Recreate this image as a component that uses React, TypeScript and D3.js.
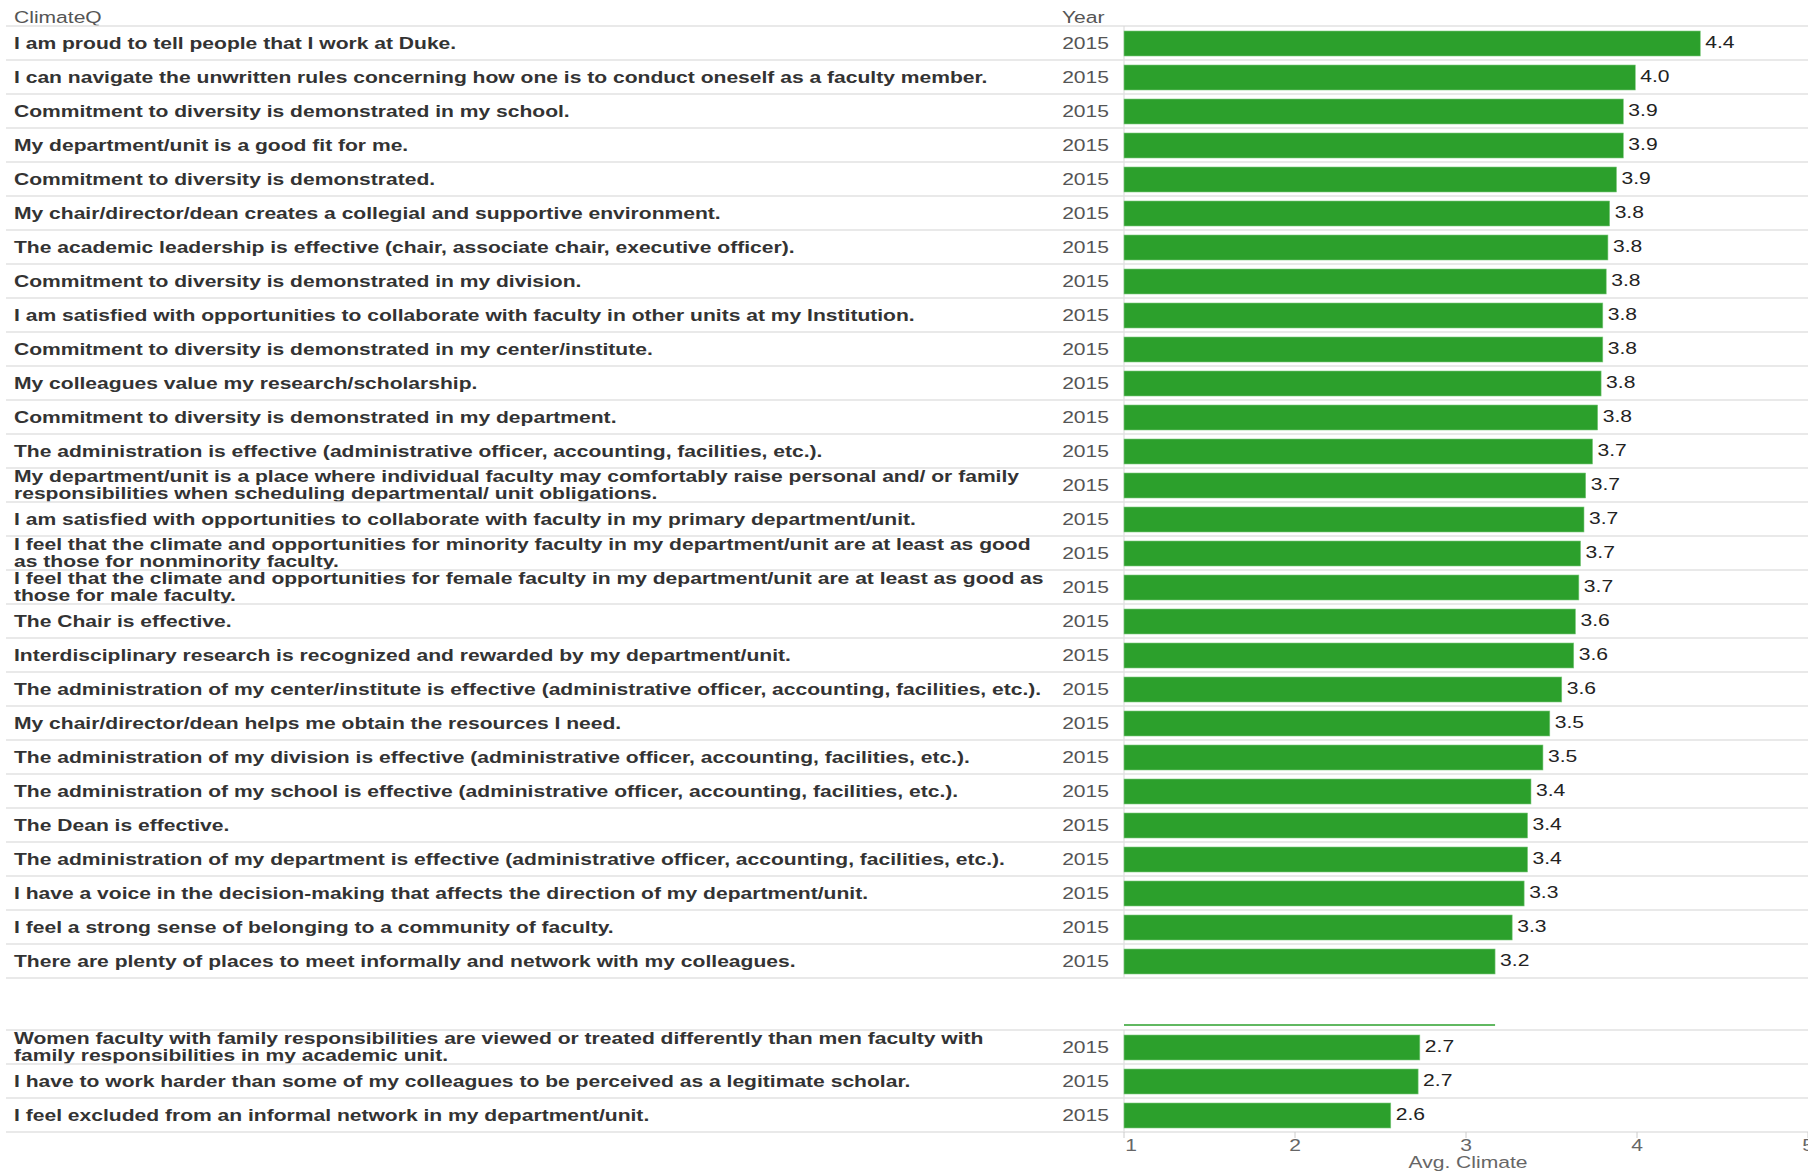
import React from 'react';
import * as d3 from 'd3';

// survey questions, top block (sorted by score)
const questions = [
  'I am proud to tell people that I work at Duke.',
  'I can navigate the unwritten rules concerning how one is to conduct oneself as a faculty member.',
  'Commitment to diversity is demonstrated in my school.',
  'My department/unit is a good fit for me.',
  'Commitment to diversity is demonstrated.',
  'My chair/director/dean creates a collegial and supportive environment.',
  'The academic leadership is effective (chair, associate chair, executive officer).',
  'Commitment to diversity is demonstrated in my division.',
  'I am satisfied with opportunities to collaborate with faculty in other units at my Institution.',
  'Commitment to diversity is demonstrated in my center/institute.',
  'My colleagues value my research/scholarship.',
  'Commitment to diversity is demonstrated in my department.',
  'The administration is effective (administrative officer, accounting, facilities, etc.).',
  'My department/unit is a place where individual faculty may comfortably raise personal and/ or family\nresponsibilities when scheduling departmental/ unit obligations.',
  'I am satisfied with opportunities to collaborate with faculty in my primary department/unit.',
  'I feel that the climate and opportunities for minority faculty in my department/unit are at least as good\nas those for nonminority faculty.',
  'I feel that the climate and opportunities for female faculty in my department/unit are at least as good as\nthose for male faculty.',
  'The Chair is effective.',
  'Interdisciplinary research is recognized and rewarded by my department/unit.',
  'The administration of my center/institute is effective (administrative officer, accounting, facilities, etc.).',
  'My chair/director/dean helps me obtain the resources I need.',
  'The administration of my division is effective (administrative officer, accounting, facilities, etc.).',
  'The administration of my school is effective (administrative officer, accounting, facilities, etc.).',
  'The Dean is effective.',
  'The administration of my department is effective (administrative officer, accounting, facilities, etc.).',
  'I have a voice in the decision-making that affects the direction of my department/unit.',
  'I feel a strong sense of belonging to a community of faculty.',
  'There are plenty of places to meet informally and network with my colleagues.',
];
const scores = [
  4.37, 3.99, 3.92, 3.92, 3.88, 3.84, 3.83, 3.82, 3.8, 3.8, 3.79, 3.77, 3.74, 3.7,
  3.69, 3.67, 3.66, 3.64, 3.63, 3.56, 3.49, 3.45, 3.38, 3.36, 3.36, 3.34, 3.27, 3.17,
];

// negatively worded questions, bottom block
const otherQuestions = [
  'Women faculty with family responsibilities are viewed or treated differently than men faculty with\nfamily responsibilities in my academic unit.',
  'I have to work harder than some of my colleagues to be perceived as a legitimate scholar.',
  'I feel excluded from an informal network in my department/unit.',
];
const otherScores = [2.73, 2.72, 2.56];

const year = '2015';
const axisTicks = [1, 2, 3, 4, 5];

const W = 1808;
const H = 1174;
const SX = 1.24; // the source screenshot is stretched horizontally
const FONT = "'Liberation Sans', Arial, sans-serif";
const GREEN = '#2ca02c';
const LINE = '#e2e2e2';

function T({x, y, anchor = 'start', weight = 'normal', fill = '#555', size = 17, children}: any) {
  return (
    <text
      transform={`translate(${x},${y}) scale(${SX},1)`}
      textAnchor={anchor}
      dy="0.35em"
      fontFamily={FONT}
      fontSize={size}
      fontWeight={weight}
      fill={fill}
    >
      {children}
    </text>
  );
}

function Section({labels, values, top, bottom, x}: any) {
  const y = d3.scaleBand<number>().domain(d3.range(labels.length)).range([top, bottom]);
  const bw = y.bandwidth();
  const fmt = d3.format('.1f');
  return (
    <g>
      <line x1={6} x2={W} y1={top} y2={top} stroke={LINE} strokeWidth={1.5} />
      <line x1={x(1)} x2={x(1)} y1={top} y2={bottom} stroke="#d8d8d8" strokeWidth={1} />
      {labels.map((q: string, i: number) => {
        const y0 = y(i)!;
        const cy = y0 + bw / 2;
        const lines = q.split('\n');
        return (
          <g key={i}>
            {lines.map((ln, j) => (
              <T key={j} x={14} y={cy + (lines.length > 1 ? (j === 0 ? -8.5 : 8) : 0)} weight="bold" fill="#333">
                {ln}
              </T>
            ))}
            <T x={1109} y={cy} anchor="end">{year}</T>
            <rect
              x={x(1)}
              y={y0 + 5}
              width={x(values[i]) - x(1)}
              height={bw - 9}
              fill={GREEN}
              stroke="#7fc97f"
              strokeWidth={0.6}
            />
            <T x={x(values[i]) + 5} y={cy - 0.5} fill="#222">{fmt(values[i])}</T>
            <line x1={6} x2={W} y1={y0 + bw} y2={y0 + bw} stroke={LINE} strokeWidth={1.5} />
          </g>
        );
      })}
    </g>
  );
}

export default function App() {
  const x = d3.scaleLinear().domain([1, 5]).range([1124, 1808]);
  const axisY = 1132;
  return (
    <svg
      width={W}
      height={H}
      style={{position: 'absolute', left: 0, top: 0, display: 'block', background: '#fff'}}
    >
      <T x={14} y={17}>ClimateQ</T>
      <T x={1062} y={17}>Year</T>

      <Section labels={questions} values={scores} top={26} bottom={978} x={x} />

      {/* thin green rule left over above the second block */}
      <line x1={x(1)} x2={x(scores[scores.length - 1])} y1={1025} y2={1025} stroke={GREEN} strokeWidth={1.5} />

      <Section labels={otherQuestions} values={otherScores} top={1030} bottom={axisY} x={x} />

      {axisTicks.map((t) => (
        <g key={t}>
          <line x1={x(t)} x2={x(t)} y1={axisY} y2={axisY + 6} stroke="#ccc" strokeWidth={1} />
          <T x={t === 1 ? x(t) + 7 : x(t)} y={1145} anchor="middle" fill="#666">{t}</T>
        </g>
      ))}
      <T x={1468} y={1162} anchor="middle" fill="#666">Avg. Climate</T>
    </svg>
  );
}
